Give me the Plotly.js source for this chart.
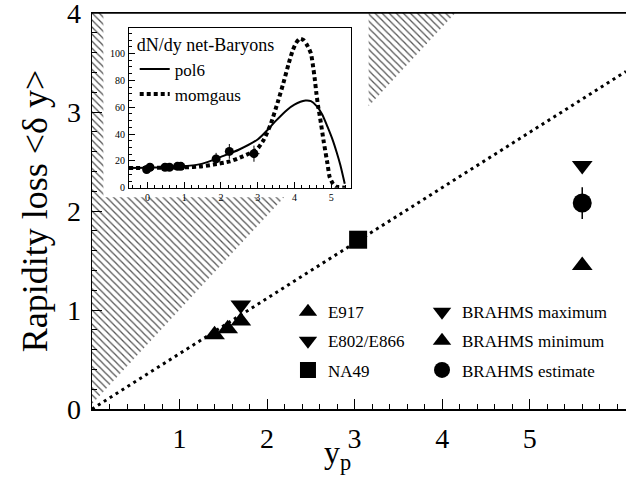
<!DOCTYPE html>
<html><head><meta charset="utf-8">
<script src="https://cdn.plot.ly/plotly-3.0.1.min.js"></script>
<style>html,body{margin:0;padding:0;background:#fff}#chart{width:626px;height:478px}</style>
</head><body><div id="chart"></div>
<script>
// ---- main panel data ----
const e917X = [1.40, 1.55, 1.70];
const e917Y = [0.75, 0.81, 0.89];
const e802X = [1.70];
const e802Y = [1.05];
const na49X = [3.04];
const na49Y = [1.71];
const brahmsX = [5.60];
const brahmsMaxY = [2.46];
const brahmsMinY = [1.45];
const brahmsEstY = [2.08];
const brahmsEstErr = [0.16];
const trendX = [0, 6.1];
const trendY = [0, 3.41];
// kinematic limit (hatched region lies above it)
const limitX = [0, 4.15];
const limitY = [0.05, 4.0];

// ---- inset data: dN/dy net-baryons ----
const netBX = [-0.02, 0.07, 0.48, 0.60, 0.82, 0.91, 1.87, 2.23, 2.90];
const netBY = [13.6, 15.3, 15.3, 15.3, 16.0, 16.0, 21.5, 27.1, 25.4];
const netBErrY = [1.5, 1.5, 1.2, 1.2, 1.2, 1.2, 4.5, 5.5, 6.0];
const netBErrX = [0, 0, 0, 0, 0, 0, 0.1, 0.12, 0.15];
const pol6X = [-0.5, 0, 0.5, 1.0, 1.5, 2.0, 2.5, 3.0, 3.3, 3.5, 3.8, 4.0, 4.3, 4.45, 4.6, 4.75, 4.9, 5.05, 5.15, 5.25, 5.37];
const pol6Y = [14.8, 15.0, 15.3, 16.0, 18.0, 23.0, 28.5, 36.0, 44.0, 50.0, 58.0, 62.0, 65.0, 64.5, 61.0, 55.0, 45.5, 35.0, 26.5, 17.0, 3.0];
const momX = [-0.5, 0, 0.5, 1.0, 1.5, 1.8, 2.25, 2.6, 2.97, 3.15, 3.35, 3.55, 3.7, 3.85, 3.95, 4.05, 4.15, 4.25, 4.35, 4.45, 4.5, 4.55, 4.6, 4.65, 4.7, 4.8, 4.9, 4.96, 5.05, 5.15, 5.3, 5.45];
const momY = [14.8, 14.8, 15.0, 15.2, 16.0, 17.3, 19.7, 23.4, 28.4, 35, 47, 64, 78, 93, 102, 108, 111, 110, 106, 100, 92, 82, 70, 60, 52, 34, 18, 8, 3, 0.7, 0.2, 0];

// inset pad extent in main-axis units (white area hiding the hatch)
const padX = [0.13, 3.16];
const padY = [2.14, 4.0];

const FONT = 'Liberation Serif, Times New Roman, serif';

const m = (limitY[1] - limitY[0]) / (limitX[1] - limitX[0]);
const c = limitY[0] - m * limitX[0];
const xAt = y => (y - c) / m;
const yTop = 4.0;
const hatchX = [0, 0, padX[0], padX[0], xAt(padY[0]), 0, null,
                padX[1], padX[1], xAt(yTop), padX[1]];
const hatchY = [c, yTop, yTop, padY[0], padY[0], c, null,
                m * padX[1] + c, yTop, yTop, m * padX[1] + c];

const traces = [
  {x: hatchX, y: hatchY, mode: 'lines', fill: 'toself', line: {width: 0, color: 'rgba(0,0,0,0)'},
   fillcolor: 'rgba(0,0,0,0)', fillpattern: {shape: '\\', fgcolor: '#555', bgcolor: 'rgba(0,0,0,0)', size: 5, solidity: 0.25},
   showlegend: false, hoverinfo: 'skip'},
  {x: trendX, y: trendY, mode: 'lines', line: {color: '#000', width: 3, dash: '3px,4px'}, showlegend: false},
  {x: e917X, y: e917Y, mode: 'markers', name: 'E917', legend: 'legend', legendgroup: 'a',
   marker: {symbol: 'triangle-up', size: 18, color: '#000'}},
  {x: e802X, y: e802Y, mode: 'markers', name: 'E802/E866', legend: 'legend', legendgroup: 'b',
   marker: {symbol: 'triangle-down', size: 18, color: '#000'}},
  {x: na49X, y: na49Y, mode: 'markers', name: 'NA49', legend: 'legend', legendgroup: 'c',
   marker: {symbol: 'square', size: 18, color: '#000'}},
  {x: brahmsX, y: brahmsMaxY, mode: 'markers', name: 'BRAHMS maximum', legend: 'legend2', legendgroup: 'd',
   marker: {symbol: 'triangle-down', size: 18, color: '#000'}},
  {x: brahmsX, y: brahmsMinY, mode: 'markers', name: 'BRAHMS minimum', legend: 'legend2', legendgroup: 'e',
   marker: {symbol: 'triangle-up', size: 18, color: '#000'}},
  {x: brahmsX, y: brahmsEstY, mode: 'markers', showlegend: false, marker: {size: 1, color: 'rgba(0,0,0,0)'},
   error_y: {type: 'data', array: brahmsEstErr, visible: true, color: '#000', thickness: 1.5, width: 0}},
  {x: brahmsX, y: brahmsEstY, mode: 'markers', name: 'BRAHMS estimate', legend: 'legend2', legendgroup: 'f',
   marker: {symbol: 'circle', size: 19, color: '#000'}},
  {x: netBX, y: netBY, xaxis: 'x2', yaxis: 'y2', mode: 'markers', showlegend: false,
   marker: {symbol: 'circle', size: 9, color: '#000'},
   error_y: {type: 'data', array: netBErrY, visible: true, color: '#000', thickness: 1, width: 0},
   error_x: {type: 'data', array: netBErrX, visible: true, color: '#000', thickness: 1, width: 0}},
  {x: pol6X, y: pol6Y, xaxis: 'x2', yaxis: 'y2', mode: 'lines', name: 'pol6', legend: 'legend3', legendgroup: 'g',
   line: {color: '#000', width: 2, shape: 'spline', smoothing: 0.8}},
  {x: momX, y: momY, xaxis: 'x2', yaxis: 'y2', mode: 'lines', name: 'momgaus', legend: 'legend3', legendgroup: 'h',
   line: {color: '#000', width: 4, dash: '4px,3px', shape: 'spline', smoothing: 0.6}}
];

const axisCommon = {
  showgrid: false, zeroline: false, showline: true, linecolor: '#000', mirror: true,
  ticks: 'inside', tickcolor: '#000', ticklabeloverflow: 'allow'
};

const layout = {
  width: 626, height: 478,
  margin: {l: 92, r: 0, t: 13, b: 69, pad: 0},
  paper_bgcolor: '#fff', plot_bgcolor: '#fff',
  font: {family: FONT, color: '#000'},
  showlegend: true,
  xaxis: Object.assign({}, axisCommon, {
    range: [0, 6.1], tickvals: [1, 2, 3, 4, 5], ticklen: 10, tickwidth: 1, linewidth: 1.5,
    minor: {dtick: 0.2, tick0: 0, ticks: 'inside', ticklen: 5, tickcolor: '#000'},
    tickfont: {size: 28, family: FONT}, ticklabelstandoff: 4
  }),
  yaxis: Object.assign({}, axisCommon, {
    range: [0, 4], tickvals: [0, 1, 2, 3, 4], ticklen: 10, tickwidth: 1, linewidth: 1.5,
    minor: {dtick: 0.2, tick0: 0, ticks: 'inside', ticklen: 5, tickcolor: '#000'},
    tickfont: {size: 28, family: FONT}, ticklabelstandoff: 4,
    title: {text: 'Rapidity loss &lt;δ y&gt;', font: {size: 36, family: FONT}, standoff: 8}
  }),
  xaxis2: Object.assign({}, axisCommon, {
    domain: [0.0693, 0.485], anchor: 'y2', range: [-0.5, 5.54],
    tickvals: [0, 1, 2, 3, 4, 5], ticklen: 6, linewidth: 1,
    minor: {dtick: 0.2, tick0: 0, ticks: 'inside', ticklen: 3, tickcolor: '#000'},
    tickfont: {size: 10, family: FONT}, ticklabelstandoff: 0
  }),
  yaxis2: Object.assign({}, axisCommon, {
    domain: [0.5586, 0.9622], anchor: 'x2', range: [0, 119],
    tickvals: [0, 20, 40, 60, 80, 100], ticklen: 6, linewidth: 1,
    minor: {dtick: 5, tick0: 0, ticks: 'inside', ticklen: 3, tickcolor: '#000'},
    tickfont: {size: 10, family: FONT}, ticklabelstandoff: 1
  }),
  legend: {x: 0.367, y: 0.29, xanchor: 'left', yanchor: 'top', bgcolor: 'rgba(0,0,0,0)',
    font: {size: 17, family: FONT}, traceorder: 'grouped', tracegroupgap: 4},
  legend2: {x: 0.618, y: 0.29, xanchor: 'left', yanchor: 'top', bgcolor: 'rgba(0,0,0,0)',
    font: {size: 17, family: FONT}, traceorder: 'grouped', tracegroupgap: 4},
  legend3: {x: 0.08, y: 0.962, xanchor: 'left', yanchor: 'top', bgcolor: 'rgba(0,0,0,0)',
    font: {size: 17, family: FONT}, traceorder: 'grouped', tracegroupgap: 0,
    title: {text: 'dN/dy net-Baryons', font: {size: 18, family: FONT}}},
  shapes: [
    {type: 'line', xref: 'paper', yref: 'paper', x0: 0, x1: 1, y0: 1, y1: 1, line: {color: '#000', width: 1.5}, layer: 'above'}
  ],
  annotations: [
    {text: 'y<sub>p</sub>', xref: 'paper', yref: 'paper', x: 0.459, y: -0.172, xanchor: 'center', yanchor: 'bottom',
     showarrow: false, font: {size: 32, family: FONT}}
  ]
};

Plotly.newPlot('chart', traces, layout, {displayModeBar: false, staticPlot: true});
</script>
</body></html>
